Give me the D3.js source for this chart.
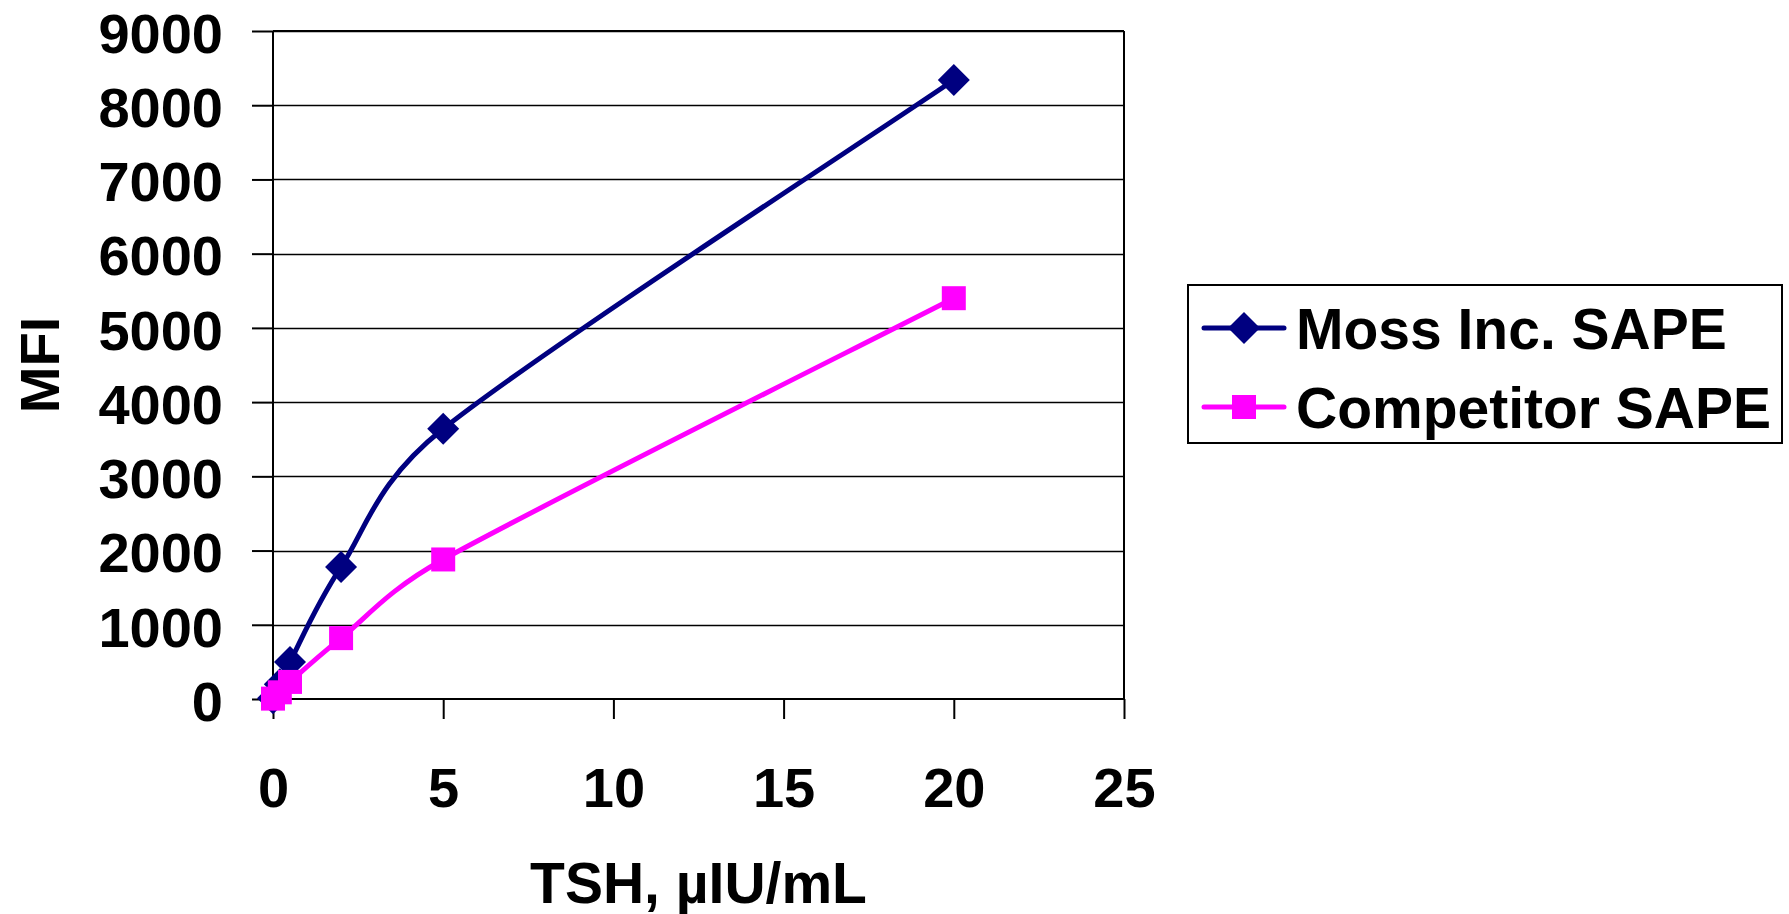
<!DOCTYPE html>
<html>
<head>
<meta charset="utf-8">
<script src="https://cdn.jsdelivr.net/npm/d3@7"></script>
<style>
  body { margin: 0; background: #fff; }
  text { font-family: 'Liberation Sans', Arial, sans-serif; font-weight: bold; fill: #000; }
</style>
</head>
<body>
<script>
// chart values
let tsh = [0, 0.2, 0.5, 2, 5, 20]
let mossValues = [10, 200, 500, 1780, 3640, 8340]
let competitorValues = [5, 90, 230, 820, 1880, 5400]
let seriesNames = ['Moss Inc. SAPE', 'Competitor SAPE']
let xTicks = [0, 5, 10, 15, 20, 25]
let yTicks = [0, 1000, 2000, 3000, 4000, 5000, 6000, 7000, 8000, 9000]

// measurements
let m = {
  width: 1789,
  height: 914,
  left: 273,
  right: 1124,
  top: 31,
  bottom: 699,
  font: 56,
}

let svg = d3.select('body')
  .append('svg')
  .attr('width', m.width)
  .attr('height', m.height)

let xScale = d3.scaleLinear()
  .domain([0, 25])
  .range([m.left, m.right])

let yScale = d3.scaleLinear()
  .domain([0, 9000])
  .range([m.bottom, m.top])

// horizontal gridlines
svg.append('g')
  .selectAll('line')
  .data(yTicks.slice(1))
  .enter()
  .append('line')
    .attr('x1', m.left)
    .attr('x2', m.right)
    .attr('y1', function(d) { return Math.round(yScale(d)) + 0.5 })
    .attr('y2', function(d) { return Math.round(yScale(d)) + 0.5 })
    .attr('stroke', '#000')
    .attr('stroke-width', 1.3)

// plot area border (top and right)
svg.append('line')
  .attr('x1', m.right).attr('x2', m.right)
  .attr('y1', m.top).attr('y2', m.bottom)
  .attr('stroke', '#000').attr('stroke-width', 2)
svg.append('line')
  .attr('x1', m.left).attr('x2', m.right)
  .attr('y1', m.top).attr('y2', m.top)
  .attr('stroke', '#000').attr('stroke-width', 2)

// axes
let xAxis = d3.axisBottom(xScale)
  .tickValues(xTicks)
  .tickSize(20)
  .tickPadding(48)

let yAxis = d3.axisLeft(yScale)
  .tickValues(yTicks)
  .tickFormat(d3.format('d'))
  .tickSize(21)
  .tickPadding(29)

let gx = svg.append('g')
  .attr('transform', 'translate(0,' + m.bottom + ')')
  .call(xAxis)

let gy = svg.append('g')
  .attr('transform', 'translate(' + m.left + ',0)')
  .call(yAxis)

gx.select('.domain').remove()
gy.select('.domain').remove()

svg.append('line')
  .attr('x1', m.left).attr('x2', m.right)
  .attr('y1', m.bottom).attr('y2', m.bottom)
  .attr('stroke', '#000').attr('stroke-width', 2)
svg.append('line')
  .attr('x1', m.left).attr('x2', m.left)
  .attr('y1', m.top).attr('y2', m.bottom)
  .attr('stroke', '#000').attr('stroke-width', 2)

gx.selectAll('.tick line').attr('stroke', '#000').attr('stroke-width', 2)
gy.selectAll('.tick line').attr('stroke', '#000').attr('stroke-width', 2)
gx.selectAll('.tick text').style('font-size', m.font + 'px').attr('fill', '#000')
gy.selectAll('.tick text').style('font-size', m.font + 'px').attr('fill', '#000')
  .attr('dy', '0.38em')

// axis titles
svg.append('text')
  .attr('x', (m.left + m.right) / 2)
  .attr('y', 903)
  .attr('text-anchor', 'middle')
  .style('font-size', '57px')
  .text('TSH, µIU/mL')

svg.append('text')
  .attr('transform', 'translate(59,' + ((m.top + m.bottom) / 2) + ') rotate(-90)')
  .attr('text-anchor', 'middle')
  .style('font-size', m.font + 'px')
  .text('MFI')

// series
let series = [
  { name: seriesNames[0], values: mossValues, color: '#000080', shape: 'diamond' },
  { name: seriesNames[1], values: competitorValues, color: '#ff00ff', shape: 'square' },
]

// excel-like smoothed line: bezier with control points (next - prev) / 6,
// each clamped to half the segment length
function smoothPath(pts) {
  let p = d3.path()
  let dist = function(a, b) { return Math.hypot(b[0] - a[0], b[1] - a[1]) }
  p.moveTo(pts[0][0], pts[0][1])
  for (let i = 0; i < pts.length - 1; i++) {
    let p0 = pts[Math.max(i - 1, 0)]
    let p1 = pts[i]
    let p2 = pts[i + 1]
    let p3 = pts[Math.min(i + 2, pts.length - 1)]
    let half = dist(p1, p2) / 2
    let d02 = dist(p0, p2)
    let d13 = dist(p1, p3)
    let f1 = d02 / 6 > half ? half / d02 : 1 / 6
    let f2 = d13 / 6 > half ? half / d13 : 1 / 6
    p.bezierCurveTo(
      p1[0] + (p2[0] - p0[0]) * f1, p1[1] + (p2[1] - p0[1]) * f1,
      p2[0] - (p3[0] - p1[0]) * f2, p2[1] - (p3[1] - p1[1]) * f2,
      p2[0], p2[1])
  }
  return p.toString()
}

function markerPath(shape) {
  if (shape == 'diamond') return 'M0,-16L16,0L0,16L-16,0Z'
  return 'M-12,-12L12,-12L12,12L-12,12Z'
}

series.forEach(function(s) {
  let pts = tsh.map(function(x, i) { return [xScale(x), yScale(s.values[i])] })
  svg.append('path')
    .attr('d', smoothPath(pts))
    .attr('fill', 'none')
    .attr('stroke', s.color)
    .attr('stroke-width', 5)
    .attr('stroke-linejoin', 'round')
})

series.forEach(function(s) {
  let pts = tsh.map(function(x, i) { return [x, s.values[i]] })
  svg.append('g')
    .selectAll('path')
    .data(pts)
    .enter()
    .append('path')
      .attr('transform', function(d) { return 'translate(' + xScale(d[0]) + ',' + yScale(d[1]) + ')' })
      .attr('d', markerPath(s.shape))
      .attr('fill', s.color)
})

// legend
let legend = svg.append('g')
legend.append('rect')
  .attr('x', 1188)
  .attr('y', 285)
  .attr('width', 594)
  .attr('height', 158)
  .attr('fill', '#fff')
  .attr('stroke', '#000')
  .attr('stroke-width', 2)

series.forEach(function(s, i) {
  let cy = 328 + i * 79
  legend.append('line')
    .attr('x1', 1204).attr('x2', 1284)
    .attr('y1', cy).attr('y2', cy)
    .attr('stroke', s.color)
    .attr('stroke-width', 5)
    .attr('stroke-linecap', 'round')
  legend.append('path')
    .attr('transform', 'translate(1244,' + cy + ')')
    .attr('d', markerPath(s.shape))
    .attr('fill', s.color)
  legend.append('text')
    .attr('x', 1296)
    .attr('y', cy + 21)
    .style('font-size', '57px')
    .text(s.name)
})
</script>
</body>
</html>
